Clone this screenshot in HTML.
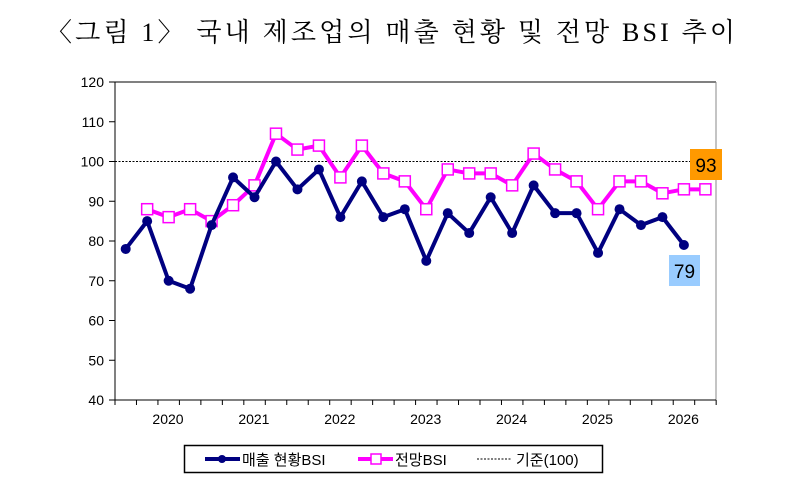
<!DOCTYPE html>
<html><head><meta charset="utf-8"><style>
body{margin:0;background:#fff;width:800px;height:489px;overflow:hidden}
</style></head><body>
<svg width="800" height="489" viewBox="0 0 800 489" xmlns="http://www.w3.org/2000/svg" id="s">
<text x="46" y="41" font-family="'Liberation Serif','Noto Serif CJK SC',serif" font-size="26" fill="#000" textLength="689" lengthAdjust="spacing">〈그림 1〉 국내 제조업의 매출 현황 및 전망 BSI 추이</text>
<g id="axes" font-family="'Liberation Sans',sans-serif" font-size="14" fill="#000"></g>
<rect x="184.5" y="445.5" width="418" height="27" fill="#fff" stroke="#000" stroke-width="1.5"/>
<line x1="205" y1="459" x2="240" y2="459" stroke="#000080" stroke-width="4"/>
<circle cx="222" cy="459" r="4" fill="#000080"/>
<text x="242" y="465" font-family="'Liberation Sans','Noto Sans CJK KR',sans-serif" font-size="15">매출 현황BSI</text>
<line x1="358" y1="459" x2="393" y2="459" stroke="#ff00ff" stroke-width="4"/>
<rect x="371" y="454" width="10" height="10" fill="#fff" stroke="#ff00ff" stroke-width="1.5"/>
<text x="395" y="465" font-family="'Liberation Sans','Noto Sans CJK KR',sans-serif" font-size="15">전망BSI</text>
<line x1="477" y1="459" x2="512" y2="459" stroke="#000" stroke-width="1" stroke-dasharray="2,1.5"/>
<text x="516" y="465" font-family="'Liberation Sans','Noto Sans CJK KR',sans-serif" font-size="15">기준(100)</text>
</svg>
<script>
const s=document.getElementById('s'),ax=document.getElementById('axes');
const NS='http://www.w3.org/2000/svg';
function el(t,a,p){const e=document.createElementNS(NS,t);for(const k in a)e.setAttribute(k,a[k]);(p||s).appendChild(e);return e;}
const Y=v=>400-(v-40)*3.975, X=i=>125.7+21.47*i;
el('line',{x1:115,y1:82,x2:716,y2:82,stroke:'#000',"stroke-width":1},ax);
el('line',{x1:716,y1:82,x2:716,y2:400,stroke:'#888',"stroke-width":1},ax);
el('line',{x1:115,y1:82,x2:115,y2:400,stroke:'#000',"stroke-width":1},ax);
el('line',{x1:115,y1:400,x2:716,y2:400,stroke:'#000',"stroke-width":1},ax);
for(let v=40;v<=120;v+=10){const y=Y(v);el('line',{x1:109,y1:y,x2:115,y2:y,stroke:'#000'},ax);const t=el('text',{x:104,y:y+5,"text-anchor":"end"},ax);t.textContent=v;}
for(let k=0;k<=28;k++){const x=115+21.47*k;el('line',{x1:x,y1:400,x2:x,y2:405,stroke:'#000'},ax);}
for(let j=0;j<7;j++){const t=el('text',{x:168+85.9*j,y:424,"text-anchor":"middle"},ax);t.textContent=2020+j;}
el('line',{x1:115,y1:Y(100),x2:690,y2:Y(100),stroke:'#000',"stroke-width":1,"stroke-dasharray":"2,1.5"});
const nv=[78,85,70,68,84,96,91,100,93,98,86,95,86,88,75,87,82,91,82,94,87,87,77,88,84,86,79];
const mg=[null,88,86,88,85,89,94,107,103,104,96,104,97,95,88,98,97,97,94,102,98,95,88,95,95,92,93,93];
let p=mg.map((v,i)=>v==null?null:X(i)+','+Y(v)).filter(a=>a);
el('polyline',{points:p.join(' '),fill:'none',stroke:'#ff00ff',"stroke-width":4,"stroke-linejoin":"round"});
mg.forEach((v,i)=>{if(v!=null)el('rect',{x:X(i)-5.5,y:Y(v)-5.5,width:11,height:11,fill:'#fff',stroke:'#ff00ff',"stroke-width":1.5});});
p=nv.map((v,i)=>X(i)+','+Y(v));
el('polyline',{points:p.join(' '),fill:'none',stroke:'#000080',"stroke-width":4,"stroke-linejoin":"round"});
nv.forEach((v,i)=>el('circle',{cx:X(i),cy:Y(v),r:5,fill:'#000080'}));
el('rect',{x:690,y:149,width:32,height:31,fill:'#ff9900'});
let t=el('text',{x:706,y:172,"text-anchor":"middle","font-family":"'Liberation Sans',sans-serif","font-size":19});t.textContent='93';
el('rect',{x:669,y:255,width:31,height:31,fill:'#99ccff'});
t=el('text',{x:684.5,y:278,"text-anchor":"middle","font-family":"'Liberation Sans',sans-serif","font-size":19});t.textContent='79';
</script>
</body></html>
